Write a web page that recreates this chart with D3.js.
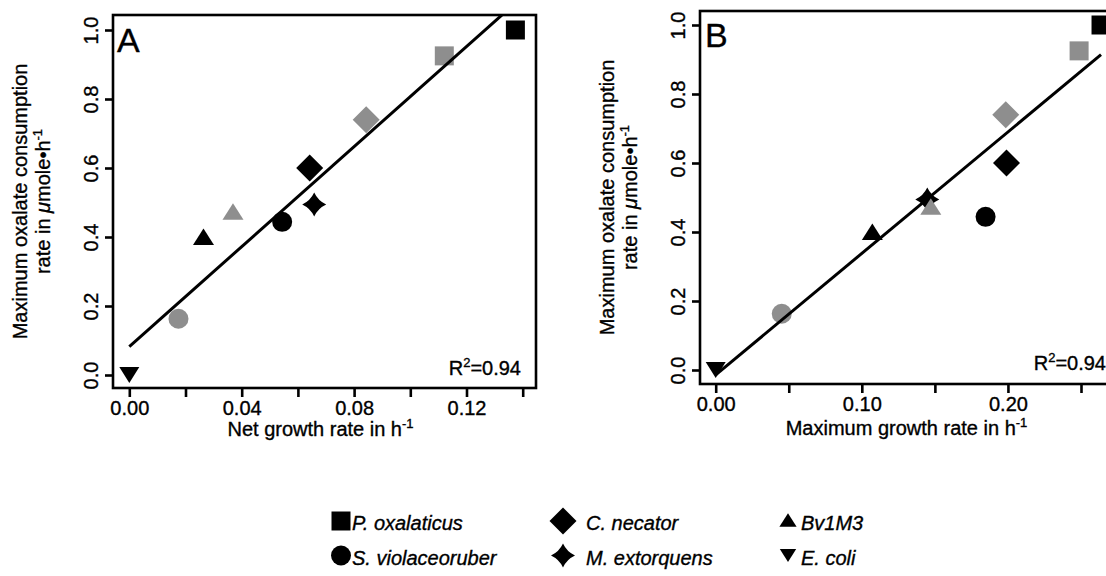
<!DOCTYPE html>
<html>
<head>
<meta charset="utf-8">
<script src="https://cdn.jsdelivr.net/npm/d3@7"></script>
<style>
  html, body { margin: 0; padding: 0; background: #fff; }
  svg { display: block; font-family: "Liberation Sans", Arial, Helvetica, sans-serif; }
  svg text { stroke: #000; stroke-width: 0.35px; }
</style>
</head>
<body>
<svg id="chart" width="1106" height="576"></svg>
<script>
// ---------------- data ----------------
const species   = ["P. oxalaticus", "C. necator", "Bv1M3", "S. violaceoruber", "M. extorquens", "E. coli",
                   "P. oxalaticus", "C. necator", "Bv1M3", "S. violaceoruber"];
const shapes    = ["square", "diamond", "triangle", "circle", "star", "triangleDown",
                   "square", "diamond", "triangle", "circle"];
const groups    = ["black", "black", "black", "black", "black", "black", "gray", "gray", "gray", "gray"];
const oxalateRate = [1.00, 0.600, 0.397, 0.444, 0.494, 0.00, 0.925, 0.740, 0.470, 0.163];
const netGrowth   = [0.1374, 0.0642, 0.0264, 0.0544, 0.0658, 0.000, 0.1121, 0.0843, 0.0369, 0.0175];
const maxGrowth   = [0.2637, 0.1990, 0.1072, 0.1847, 0.1448, 0.000, 0.2487, 0.1985, 0.1472, 0.0452];

const fitA = { intercept: 0.082, slope: 7.25 };
const fitB = { intercept: -0.014, slope: 3.52 };
const r2Label = "0.94";

const yTicks  = [0, 0.2, 0.4, 0.6, 0.8, 1.0];
const xTicksA = [0, 0.02, 0.04, 0.06, 0.08, 0.10, 0.12, 0.14];
const xLabelsA = [0, 0.04, 0.08, 0.12];
const xTicksB = [0, 0.05, 0.10, 0.15, 0.20, 0.25];
const xLabelsB = [0, 0.10, 0.20];

const legendSpecies = ["P. oxalaticus", "C. necator", "Bv1M3", "S. violaceoruber", "M. extorquens", "E. coli"];
const legendShapes  = ["square", "diamond", "triangle", "circle", "star", "triangleDown"];

// ---------------- drawing ----------------
const colors = { black: "#000000", gray: "#8e8e8e" };
const FONT = 20;

function shapePath(name, k = 1) {
  switch (name) {
    case "square": { const s = 9.5 * k; return `M${-s},${-s}H${s}V${s}H${-s}Z`; }
    case "diamond": { const s = 13.5 * k; return `M0,${-s}L${s},0L0,${s}L${-s},0Z`; }
    case "circle": { const r = 10 * k; return `M${r},0A${r},${r} 0 1,1 ${-r},0A${r},${r} 0 1,1 ${r},0Z`; }
    case "triangle": { const w = 10.5 * k, h = 16.5 * k; return `M0,${-h*0.58}L${w},${h*0.42}L${-w},${h*0.42}Z`; }
    case "triangleDown": { const w = 10 * k, h = 16 * k; return `M0,${h*0.5}L${w},${-h*0.5}L${-w},${-h*0.5}Z`; }
    case "star": { const R = 12 * k, c = 3.8 * k;
      return `M0,${-R}Q${c},${-c} ${R},0Q${c},${c} 0,${R}Q${-c},${c} ${-R},0Q${-c},${-c} 0,${-R}Z`; }
  }
}

const svg = d3.select("#chart");

const points = species.map((s, i) => ({
  species: s, shape: shapes[i], group: groups[i],
  y: oxalateRate[i], netGrowth: netGrowth[i], maxGrowth: maxGrowth[i]
}));

function fmt2(v) { return v.toFixed(2); }

function panel(cfg) {
  const g = svg.append("g");
  const x = d3.scaleLinear().domain(cfg.xDomain).range(cfg.xRange);
  const y = d3.scaleLinear().domain([0, 1]).range(cfg.yRange);
  const b = cfg.box;

  const clipId = "clip" + cfg.letter;
  svg.append("clipPath").attr("id", clipId)
    .append("rect").attr("x", b.left).attr("y", b.top)
    .attr("width", b.right - b.left).attr("height", b.bottom - b.top);

  // points
  const pg = g.append("g").attr("clip-path", `url(#${clipId})`);
  pg.selectAll("path.pt").data(points).join("path")
    .attr("class", "pt")
    .attr("d", d => shapePath(d.shape))
    .attr("transform", d => `translate(${x(d[cfg.xKey])},${y(d.y)})`)
    .attr("fill", d => colors[d.group]);

  // regression line from 0 to max x
  const xmax = d3.max(points, d => d[cfg.xKey]);
  const fit = cfg.fit;
  pg.append("line")
    .attr("x1", x(0)).attr("y1", y(fit.intercept))
    .attr("x2", x(xmax)).attr("y2", y(fit.intercept + fit.slope * xmax))
    .attr("stroke", "#000").attr("stroke-width", 3);

  // box
  g.append("rect").attr("x", b.left).attr("y", b.top)
    .attr("width", b.right - b.left).attr("height", b.bottom - b.top)
    .attr("fill", "none").attr("stroke", "#000").attr("stroke-width", 2.6);

  // x axis
  const xa = g.append("g").attr("transform", `translate(0,${b.bottom})`)
    .call(d3.axisBottom(x).tickValues(cfg.xTicks).tickSize(9)
      .tickFormat(v => cfg.xLabels.some(l => Math.abs(l - v) < 1e-9) ? fmt2(v) : ""));
  xa.select(".domain").remove();
  xa.selectAll(".tick line").attr("stroke-width", 2.6);
  xa.selectAll(".tick text").attr("y", cfg.xLabelOffset).attr("dy", null)
    .attr("font-size", FONT).attr("font-family", null).attr("fill", "#000");

  // y axis
  const ya = g.append("g").attr("transform", `translate(${b.left},0)`)
    .call(d3.axisLeft(y).tickValues(yTicks).tickSize(8).tickFormat(d3.format(".1f")));
  ya.select(".domain").remove();
  ya.selectAll(".tick line").attr("stroke-width", 2.6);
  ya.selectAll(".tick text").attr("x", null).attr("dy", null)
    .attr("text-anchor", "middle")
    .attr("transform", "translate(-15,0) rotate(-90)")
    .attr("font-size", FONT).attr("font-family", null).attr("fill", "#000");

  // x title
  const xt = g.append("text").attr("x", (b.left + b.right) / 2 - 4).attr("y", cfg.xTitleY)
    .attr("text-anchor", "middle").attr("font-size", FONT);
  xt.append("tspan").text(cfg.xTitle);
  xt.append("tspan").attr("dy", -8).attr("font-size", 13).text("-1");

  // y title (two lines)
  const cy = (b.top + b.bottom) / 2;
  g.append("text").attr("transform", `translate(${b.left - 86},${cy}) rotate(-90)`)
    .attr("text-anchor", "middle").attr("font-size", FONT)
    .text("Maximum oxalate consumption");
  const yt2 = g.append("text").attr("transform", `translate(${b.left - 63},${cy}) rotate(-90)`)
    .attr("text-anchor", "middle").attr("font-size", FONT);
  yt2.append("tspan").text("rate in ");
  yt2.append("tspan").attr("font-style", "italic").text("\u03BC");
  yt2.append("tspan").text("mole\u2022h");
  yt2.append("tspan").attr("dy", -8).attr("font-size", 13).text("-1");

  // panel letter
  g.append("text").attr("x", cfg.letterX).attr("y", cfg.letterY)
    .attr("font-size", 34).text(cfg.letter);

  // R^2
  const rt = g.append("text").attr("x", b.right - 15).attr("y", cfg.r2Y)
    .attr("text-anchor", "end").attr("font-size", FONT);
  rt.append("tspan").text("R");
  rt.append("tspan").attr("dy", -8).attr("font-size", 13).text("2");
  rt.append("tspan").attr("dy", 8).text("=" + r2Label);
}

panel({
  letter: "A", letterX: 117, letterY: 52,
  xKey: "netGrowth", xDomain: [0, 0.14], xRange: [129.3, 522.7], yRange: [375, 30],
  box: { left: 113, right: 536, top: 15, bottom: 388 },
  xTicks: xTicksA, xLabels: xLabelsA, xLabelOffset: 27, xTitleY: 436,
  xTitle: "Net growth rate in h", fit: fitA, r2Y: 375
});

panel({
  letter: "B", letterX: 705, letterY: 47,
  xKey: "maxGrowth", xDomain: [0, 0.25], xRange: [715.7, 1081], yRange: [370, 25],
  box: { left: 700, right: 1121, top: 11, bottom: 384 },
  xTicks: xTicksB, xLabels: xLabelsB, xLabelOffset: 27, xTitleY: 435,
  xTitle: "Maximum growth rate in h", fit: fitB, r2Y: 370
});

// legend
const legX  = [341, 563, 788];
const legTX = [352, 586, 801];
const legY  = [521, 555.5];
const leg = svg.append("g");
legendSpecies.forEach((s, i) => {
  const col = i % 3, row = Math.floor(i / 3);
  const k = legendShapes[i].startsWith("triangle") ? 0.82 : 1;
  leg.append("path").attr("d", shapePath(legendShapes[i], k))
    .attr("transform", `translate(${legX[col]},${legY[row]})`).attr("fill", "#000");
  leg.append("text").attr("x", legTX[col]).attr("y", legY[row] + 9)
    .attr("font-size", FONT).attr("font-style", "italic").text(s);
});
</script>
</body>
</html>
